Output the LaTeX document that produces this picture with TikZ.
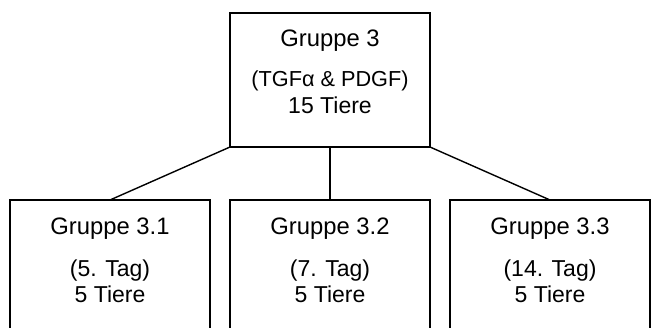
\documentclass[tikz,border=0pt]{standalone}
\usepackage{fontspec}
\setmainfont{Liberation Sans}
\begin{document}
\begin{tikzpicture}[x=1pt,y=-1pt,
  box/.style={draw=black,line width=1.4pt,minimum width=200pt,inner sep=0pt,outer sep=0pt},
  txt/.style={anchor=base,inner sep=0pt,font=\fontsize{23}{27}\selectfont},
  head/.style={txt,font=\fontsize{23.8}{28}\selectfont},
  conn/.style={line width=1.4pt}]
\useasboundingbox (0,0) rectangle (651,327);
\clip (0,0) rectangle (651,327);
\node[box,minimum height=134pt] (g3) at (330,80) {};
\node[box,minimum height=200pt] (g31) at (110,300) {};
\node[box,minimum height=200pt] (g32) at (330,300) {};
\node[box,minimum height=200pt] (g33) at (550,300) {};
\node[head] (g3a) at (330,46.7) {Gruppe 3};
\node[txt,font=\fontsize{21.7}{26}\selectfont] (g3b) at (330,86.7) {(TGFα \& PDGF)};
\node[txt] (g3c) at (330,113.3) {15 Tiere};
\node[head] (g31a) at (110,234) {Gruppe 3.1};
\node[txt] (g31b) at (110,276) {(5. Tag)};
\node[txt] (g31c) at (110,302) {5 Tiere};
\node[head] (g32a) at (330,234) {Gruppe 3.2};
\node[txt] (g32b) at (330,276) {(7. Tag)};
\node[txt] (g32c) at (330,302) {5 Tiere};
\node[head] (g33a) at (550,234) {Gruppe 3.3};
\node[txt] (g33b) at (550,276) {(14. Tag)};
\node[txt] (g33c) at (550,302) {5 Tiere};
\draw[conn] (g3.south west) -- (g31.north);
\draw[conn] (g3.south) -- (g32.north);
\draw[conn] (g3.south east) -- (g33.north);
\end{tikzpicture}
\end{document}
